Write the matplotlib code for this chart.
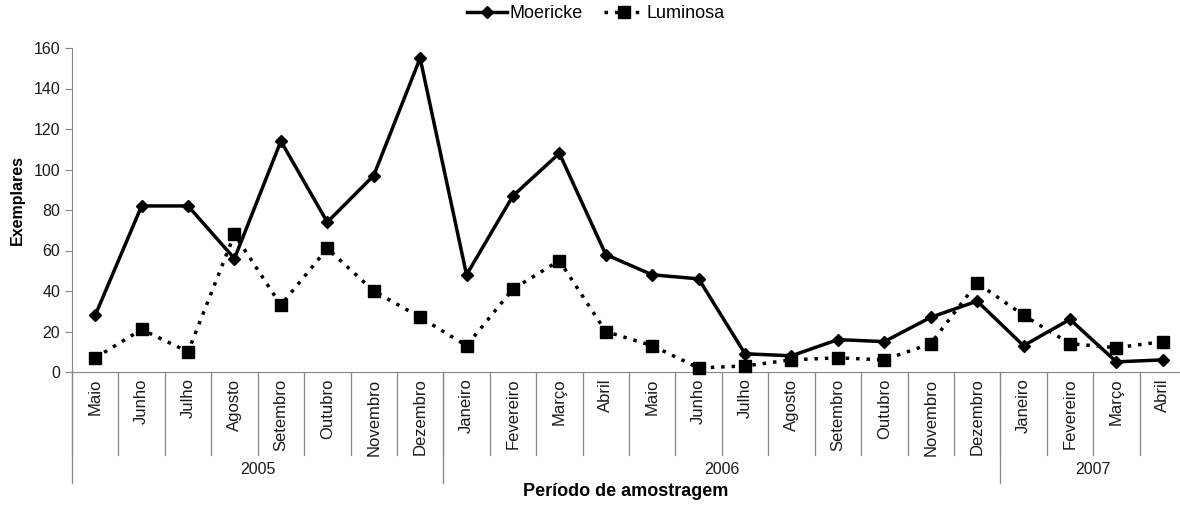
import matplotlib
matplotlib.use("Agg")
import matplotlib.pyplot as plt
import matplotlib.transforms as mtransforms
from matplotlib.lines import Line2D

plt.rcParams['font.family'] = ['Liberation Sans', 'DejaVu Sans']

# dados
meses = ["Maio", "Junho", "Julho", "Agosto", "Setembro", "Outubro", "Novembro", "Dezembro",
         "Janeiro", "Fevereiro", "Março", "Abril", "Maio", "Junho", "Julho", "Agosto",
         "Setembro", "Outubro", "Novembro", "Dezembro",
         "Janeiro", "Fevereiro", "Março", "Abril"]
anos = ["2005", "2006", "2007"]
meses_por_ano = [8, 12, 4]
moericke = [28, 82, 82, 56, 114, 74, 97, 155, 48, 87, 108, 58,
            48, 46, 9, 8, 16, 15, 27, 35, 13, 26, 5, 6]
luminosa = [7, 21, 10, 68, 33, 61, 40, 27, 13, 41, 55, 20,
            13, 2, 3, 6, 7, 6, 14, 44, 28, 14, 12, 15]

cinza = '#868686'
texto = '#1a1a1a'

fig = plt.figure(figsize=(11.8, 5.08), dpi=100)
W, H = 1180, 508
ax = fig.add_axes([72 / W, (H - 372) / H, (1186 - 72) / W, (372 - 48) / H])

x = list(range(len(meses)))
ax.plot(x, moericke, color='black', lw=2.5, marker='D', ms=6.5, label='Moericke', clip_on=False, zorder=3)
ax.plot(x, luminosa, color='black', lw=2.5, ls=(0, (1, 2)), marker='s', ms=8.5, label='Luminosa',
        clip_on=False, zorder=3)

ax.set_xlim(-0.5, len(meses) - 0.5)
ax.set_ylim(0, 160)
ax.set_yticks(range(0, 161, 20))
ax.tick_params(axis='y', colors=cinza, labelcolor=texto, labelsize=11.5, length=5, direction='out')
ax.set_xticks([])
for s in ['top', 'right']:
    ax.spines[s].set_visible(False)
ax.spines['left'].set_color(cinza)
ax.spines['bottom'].set_color(cinza)
ax.spines['left'].set_bounds(0, 160)

trans = mtransforms.blended_transform_factory(ax.transData, ax.transAxes)
y_mes = -83 / 324
y_ano = -111 / 324

# separadores dos meses
for i in range(len(meses) + 1):
    ax.plot([i - 0.5, i - 0.5], [0, y_mes], color=cinza, lw=0.9, transform=trans, clip_on=False)
for i, m in enumerate(meses):
    ax.text(i, -0.02, m, rotation=90, ha='center', va='top', fontsize=12, color=texto,
            transform=trans)

# separadores dos anos
pos = -0.5
ax.plot([pos, pos], [0, y_ano], color=cinza, lw=0.9, transform=trans, clip_on=False)
for ano, n in zip(anos, meses_por_ano):
    ax.text(pos + n / 2, y_ano + 0.043, ano, ha='center', va='center', fontsize=11.5,
            color=texto, transform=trans)
    pos += n
    ax.plot([pos, pos], [0, y_ano], color=cinza, lw=0.9, transform=trans, clip_on=False)

fig.text(17.5 / W, (H - 200) / H, "Exemplares", rotation=90, ha='center', va='center',
         fontsize=11.5, fontweight='bold')
fig.text(626 / W, (H - 492) / H, "Período de amostragem", ha='center', va='center',
         fontsize=13, fontweight='bold')

handles = [Line2D([], [], color='black', lw=2.5, marker='D', ms=6.5),
           Line2D([], [], color='black', lw=2.5, ls=(0, (1, 2)), marker='s', ms=8.5)]
fig.legend(handles, ['Moericke', 'Luminosa'], loc='center', bbox_to_anchor=(596 / W, (H - 14) / H),
           ncol=2, frameon=False, fontsize=13, handlelength=2.2, columnspacing=1.2, handletextpad=0.15)

fig.savefig("out.png", dpi=100)
